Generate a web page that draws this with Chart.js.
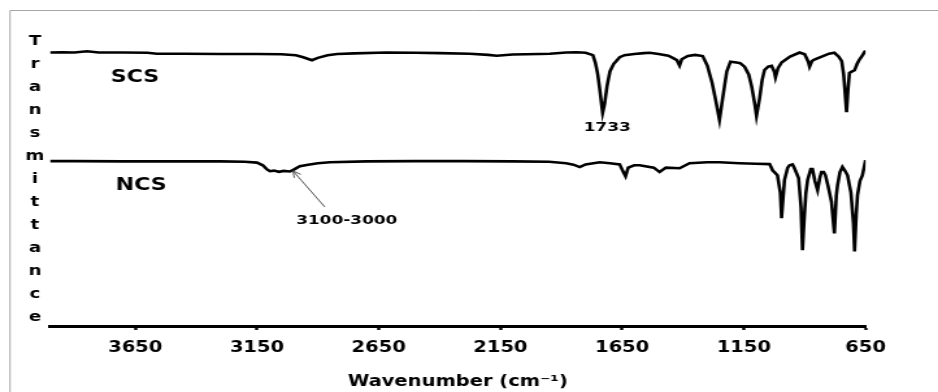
<!DOCTYPE html>
<html>
<head>
<meta charset="utf-8">
<script src="https://cdn.jsdelivr.net/npm/chart.js@4.4.1/dist/chart.umd.min.js"></script>
<style>
  html, body { margin: 0; padding: 0; background: #fff; overflow: hidden; }
  /* the original picture is stretched sideways, so the whole chart is too */
  #wrap {
    position: absolute; left: 0; top: 0;
    width: 722px; height: 392px;
    transform: scaleX(1.2992); transform-origin: 0 0;
  }
</style>
</head>
<body>
<div id="wrap"><canvas id="irChart"></canvas></div>
<script>
// SCS spectrum (wavenumber cm-1, transmittance, arbitrary offset)
const scsWavenumbers = [4000, 3950, 3900, 3848, 3800, 3700, 3600, 3561, 3450, 3300, 3150, 3050, 2990, 2960, 2924, 2900, 2860, 2820, 2750, 2617, 2500, 2400, 2276, 2200, 2165, 2100, 1990, 1947, 1880, 1837, 1800, 1770, 1760, 1750, 1742, 1730, 1722, 1712, 1700, 1685, 1660, 1640, 1600, 1560, 1537, 1500, 1460, 1440, 1425, 1414, 1405, 1380, 1350, 1319, 1300, 1280, 1265, 1250, 1235, 1220, 1205, 1180, 1165, 1147, 1130, 1118, 1105, 1098, 1085, 1075, 1065, 1050, 1036, 1025, 1020, 1010, 995, 960, 921, 900, 885, 880, 870, 860, 830, 800, 778, 760, 748, 740, 728, 722, 716, 705, 695, 685, 675, 662, 654, 650];
const scsValues = [92.4, 92.5, 92.4, 92.8, 92.4, 92.4, 92.3, 92.0, 92.0, 91.9, 91.9, 91.8, 91.5, 90.8, 89.8, 90.6, 91.5, 91.9, 92.1, 92.4, 92.3, 92.2, 92.0, 91.6, 91.3, 91.7, 91.9, 92.0, 92.4, 92.5, 92.3, 91.5, 89.0, 85.0, 80.0, 72.0, 75.0, 81.0, 86.0, 88.5, 90.8, 91.5, 91.9, 92.2, 92.3, 91.9, 91.3, 90.5, 89.8, 88.0, 90.1, 91.2, 91.6, 91.2, 88.0, 82.0, 76.0, 69.6, 78.0, 86.0, 89.3, 89.0, 88.8, 87.6, 85.0, 81.0, 75.0, 71.0, 77.0, 83.0, 86.5, 87.6, 87.9, 86.0, 84.0, 87.0, 89.0, 91.0, 92.4, 91.8, 89.2, 87.6, 89.5, 90.0, 91.0, 92.0, 92.3, 91.0, 89.5, 85.0, 72.2, 80.0, 85.5, 86.0, 86.4, 88.5, 90.0, 91.5, 92.6, 93.0];

// NCS spectrum
const ncsWavenumbers = [4000, 3900, 3700, 3500, 3300, 3200, 3150, 3126, 3110, 3097, 3080, 3060, 3040, 3015, 2995, 2974, 2940, 2900, 2851, 2700, 2500, 2300, 2100, 1950, 1880, 1850, 1824, 1800, 1742, 1700, 1660, 1645, 1636, 1625, 1600, 1578, 1520, 1496, 1470, 1414, 1373, 1300, 1250, 1168, 1100, 1044, 1032, 1012, 1000, 995, 988, 983, 970, 962, 950, 942, 925, 915, 909, 903, 895, 888, 875, 868, 858, 847, 838, 831, 822, 815, 805, 790, 778, 770, 765, 755, 745, 735, 724, 710, 700, 695, 688, 683, 673, 663, 650];
const ncsValues = [55.7, 55.7, 55.6, 55.6, 55.6, 55.5, 55.2, 54.3, 53.0, 52.3, 52.5, 52.1, 52.4, 52.2, 53.0, 54.0, 54.5, 55.0, 55.3, 55.6, 55.7, 55.7, 55.6, 55.5, 55.0, 54.5, 53.7, 54.6, 55.3, 55.0, 54.6, 52.0, 50.6, 53.5, 54.3, 54.3, 53.5, 52.0, 53.5, 53.3, 55.0, 55.3, 55.3, 55.0, 54.8, 54.7, 52.6, 50.9, 45.0, 36.4, 44.0, 49.3, 53.5, 54.3, 54.6, 53.3, 50.0, 40.0, 25.6, 35.0, 45.0, 49.3, 53.0, 53.0, 49.0, 45.9, 50.0, 52.0, 52.0, 51.0, 47.6, 42.0, 31.3, 44.0, 47.6, 52.0, 53.7, 52.5, 50.9, 45.0, 35.0, 25.2, 38.0, 44.2, 49.0, 50.9, 56.0];

const xTickValues = [3650, 3150, 2650, 2150, 1650, 1150, 650];
const yTitleLetters = "Transmittance".split("");

const FONT = "'DejaVu Sans', Verdana, sans-serif";

function toPoints(xs, ys) {
    return xs.map((x, i) => ({ x: x, y: ys[i] }));
}

// frame, vertical y title and the text notes on the plot
const notesPlugin = {
    id: "notes",
    afterDraw(chart) {
        const ctx = chart.ctx;
        const xs = chart.scales.x;
        const ys = chart.scales.y;
        const px = (v) => xs.getPixelForValue(v);
        const py = (v) => ys.getPixelForValue(v);

        ctx.save();

        // outer frame
        ctx.strokeStyle = "#a6a6a6";
        ctx.lineWidth = 1;
        ctx.beginPath();
        ctx.moveTo(7.7, 392);
        ctx.lineTo(7.7, 10.5);
        ctx.lineTo(chart.width, 10.5);
        ctx.stroke();

        // "Transmittance" written top to bottom
        ctx.fillStyle = "#000";
        ctx.textAlign = "center";
        ctx.textBaseline = "alphabetic";
        ctx.font = "bold 14px " + FONT;
        yTitleLetters.forEach((ch, i) => {
            ctx.fillText(ch, 26.9, 45 + i * 23);
        });

        // series names
        ctx.textBaseline = "middle";
        ctx.font = "bold 17px " + FONT;
        ctx.fillText("SCS", px(3651), py(83.8));
        ctx.fillText("NCS", px(3626), py(47.6));

        // peak notes
        ctx.font = "bold 13px " + FONT;
        ctx.fillText("1733", px(1711), py(67.1));
        ctx.fillText("3100-3000", px(2781), py(35.6));

        // arrow pointing at the 3100-3000 band
        const tipX = px(3002), tipY = py(52.4);
        const tailX = px(2871), tailY = py(40.2);
        ctx.strokeStyle = "#555";
        ctx.lineWidth = 1;
        ctx.beginPath();
        ctx.moveTo(tailX, tailY);
        ctx.lineTo(tipX, tipY);
        const ang = Math.atan2(tipY - tailY, tipX - tailX);
        const head = 7;
        ctx.moveTo(tipX - head * Math.cos(ang - 0.45), tipY - head * Math.sin(ang - 0.45));
        ctx.lineTo(tipX, tipY);
        ctx.lineTo(tipX - head * Math.cos(ang + 0.45), tipY - head * Math.sin(ang + 0.45));
        ctx.stroke();

        ctx.restore();
    },
};

new Chart(document.getElementById("irChart").getContext("2d"), {
    type: "line",
    data: {
        datasets: [
            {
                label: "SCS",
                data: toPoints(scsWavenumbers, scsValues),
                borderColor: "#000",
                borderWidth: 2.6,
                pointRadius: 0,
                tension: 0,
                fill: false,
            },
            {
                label: "NCS",
                data: toPoints(ncsWavenumbers, ncsValues),
                borderColor: "#000",
                borderWidth: 2.6,
                pointRadius: 0,
                tension: 0,
                fill: false,
            },
        ],
    },
    options: {
        responsive: true,
        maintainAspectRatio: false,
        animation: false,
        layout: {
            padding: { left: 38.5, right: 55.8, top: 30, bottom: 0 },
        },
        plugins: {
            legend: { display: false },
            tooltip: { enabled: false },
        },
        scales: {
            x: {
                type: "linear",
                reverse: true,
                min: 650,
                max: 4000,
                afterBuildTicks(scale) {
                    scale.ticks = xTickValues.map((v) => ({ value: v }));
                },
                afterFit(scale) {
                    scale.height = 66;
                },
                border: { display: true, color: "#000", width: 3 },
                grid: {
                    drawOnChartArea: false,
                    drawTicks: true,
                    tickLength: 4,
                    tickWidth: 2.4,
                    tickColor: "#000",
                },
                ticks: {
                    color: "#000",
                    font: { family: FONT, weight: "bold", size: 15 },
                    padding: 9,
                    maxRotation: 0,
                    autoSkip: false,
                    callback: (value) => String(value),
                },
                title: {
                    display: true,
                    text: "Wavenumber (cm\u207B\u00B9)",
                    color: "#000",
                    font: { family: FONT, weight: "bold", size: 15 },
                    padding: { top: 0, bottom: 1 },
                },
            },
            y: {
                display: false,
                min: 0,
                max: 100,
            },
        },
    },
    plugins: [notesPlugin],
});
</script>
</body>
</html>
